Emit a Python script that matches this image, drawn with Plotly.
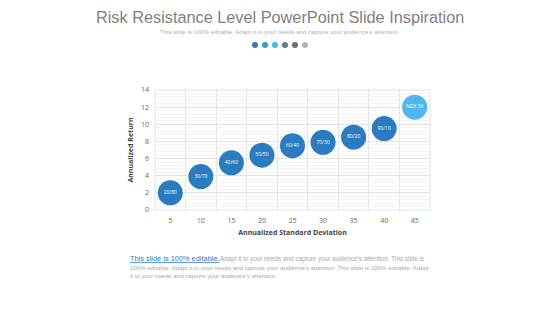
import plotly.graph_objects as go

labels = ["20/80", "30/70", "40/60", "50/50", "60/40", "70/30", "80/20", "90/10", "NDX 50"]
std_dev = [5, 10, 15, 20, 25, 30, 35, 40, 45]
returns = [2.0, 3.9, 5.5, 6.4, 7.5, 7.9, 8.5, 9.5, 12.0]
colors = ["#2a7bbf"] * 8 + ["#4db6ee"]
x_ticks = [5, 10, 15, 20, 25, 30, 35, 40, 45]
y_ticks = [0, 2, 4, 6, 8, 10, 12, 14]
dot_colors = ["#2a7ab8", "#3b9ad3", "#4ab6e2", "#5d7e82", "#6e6e6e", "#b3b3b3"]

W, H = 560, 315
fig = go.Figure()
fig.add_trace(go.Scatter(
    x=std_dev, y=returns, mode="markers+text", text=labels,
    textposition="middle center",
    textfont=dict(size=5, color="white", family="Open Sans"),
    marker=dict(size=25, color=colors, line=dict(width=0)),
    hoverinfo="skip", showlegend=False, cliponaxis=False))

grid_x = [7.5 + 5 * i for i in range(9)]
fig.update_layout(
    width=W, height=H, paper_bgcolor="white", plot_bgcolor="white",
    margin=dict(l=0, r=0, t=0, b=0),
    font=dict(family="Open Sans", color="#555"),
    xaxis=dict(domain=[155 / W, 430 / W], range=[2.5, 47.5], tickvals=x_ticks, showgrid=False,
               zeroline=False, showline=False, ticks="", tickfont=dict(size=7, color="#666"),
               automargin=False, ticklabelstandoff=5,
               minor=dict(tickvals=grid_x, showgrid=True, gridcolor="#e2e2e2", gridwidth=1, ticks=""),
               title=dict(text="<b>Annualized Standard Deviation</b>", font=dict(size=7, color="#444"), standoff=6)),
    yaxis=dict(domain=[1 - 210 / H, 1 - 90 / H], range=[0, 14], tickvals=y_ticks, showgrid=True,
               gridcolor="#e2e2e2", automargin=False, ticklabelstandoff=5,
               zeroline=False, showline=False, ticks="", tickfont=dict(size=7, color="#666"),
               minor=dict(dtick=0.4, showgrid=True, gridcolor="#f3f3f3", ticks=""),
               title=dict(text="<b>Annualized Return</b>", font=dict(size=7, color="#444"), standoff=6)),
)

fig.add_shape(type="rect", xref="x domain", yref="y domain", x0=0, x1=1, y0=0, y1=1,
              line=dict(color="#e2e2e2", width=1), layer="below")

fig.add_annotation(x=0.5, y=1 - 17 / H, xref="paper", yref="paper", xanchor="center", yanchor="middle",
                   text="Risk Resistance Level PowerPoint Slide Inspiration", showarrow=False,
                   font=dict(size=16.3, color="#7f7f7f", family="Liberation Sans"))
fig.add_annotation(x=0.5, y=1 - 32 / H, xref="paper", yref="paper", xanchor="center", yanchor="middle",
                   text="This slide is 100% editable. Adapt it to your needs and capture your audience's attention.",
                   showarrow=False, font=dict(size=6.1, color="#b0b0b0", family="Liberation Sans"))
for i, c in enumerate(dot_colors):
    cx = 255 + 10 * i
    fig.add_shape(type="circle", xref="paper", yref="paper",
                  x0=(cx - 3) / W, x1=(cx + 3) / W, y0=1 - 48 / H, y1=1 - 42 / H,
                  fillcolor=c, line=dict(width=0))

fig.add_annotation(x=128 / W, y=1 - 258 / H, xref="paper", yref="paper", xanchor="left", yanchor="middle",
                   text="<u>This slide is 100% editable.</u>", showarrow=False,
                   font=dict(size=7.4, color="#2a7bbf", family="Liberation Sans"))
fig.add_annotation(x=218 / W, y=1 - 258.5 / H, xref="paper", yref="paper", xanchor="left", yanchor="middle",
                   text="Adapt it to your needs and capture your audience's attention. This slide is",
                   showarrow=False, font=dict(size=6.3, color="#a8a8a8", family="Liberation Sans"))
fig.add_annotation(x=128 / W, y=1 - 271 / H, xref="paper", yref="paper", xanchor="left", yanchor="middle",
                   align="left",
                   text="100% editable. Adapt it to your needs and capture your audience's attention. This slide is 100% editable. Adapt<br>it to your needs and capture your audience's attention.",
                   showarrow=False, font=dict(size=6.1, color="#a8a8a8", family="Liberation Sans"))

fig.write_html("out.html")
